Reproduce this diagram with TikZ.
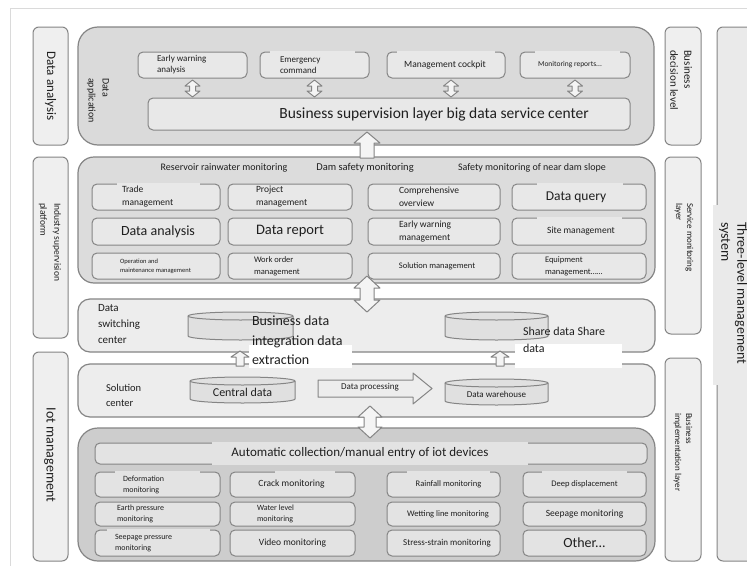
\documentclass[tikz,border=0pt]{standalone}
\usepackage{fontspec}
\setmainfont{Carlito}
\usetikzlibrary{calc}
\definecolor{bord}{HTML}{858585}
\definecolor{framec}{HTML}{DADADA}
\definecolor{pone}{HTML}{DADADA}
\definecolor{ptwo}{HTML}{DCDCDC}
\definecolor{pmid}{HTML}{EDEDED}
\definecolor{pfive}{HTML}{CDCDCD}
\definecolor{bfill}{HTML}{E8E8E8}
\definecolor{bfillv}{HTML}{E3E3E3}
\definecolor{sfill}{HTML}{EFEFEF}
\definecolor{tfill}{HTML}{EAEAEA}
\definecolor{cfill}{HTML}{E0E0E0}
\definecolor{afill}{HTML}{F4F4F4}
\definecolor{tcol}{HTML}{1F1F1F}
\newcommand\fsz[2]{\fontsize{#1}{#2}\selectfont}
\newcommand\mkbox[6]{%
  \pgfmathsetmacro\cxx{(#2+#4)/2}\pgfmathsetmacro\cyy{(#3+#5)/2}%
  \pgfmathsetmacro\ww{#4-#2}\pgfmathsetmacro\hh{#5-#3}%
  \node[#6, minimum width=\ww pt, minimum height=\hh pt, inner sep=0pt, outer sep=0pt] (#1) at (\cxx,\cyy) {};}
\newcommand\mkcyl[5]{%
  \pgfmathsetmacro\cxx{(#2+#4)/2}\pgfmathsetmacro\cyy{(#3+#5)/2}%
  \pgfmathsetmacro\ww{#4-#2}\pgfmathsetmacro\hh{#5-#3}\pgfmathsetmacro\rxx{(#4-#2)/2}%
  \path[cylst] (#2,#3+4) -- (#2,#5-4) arc[start angle=180,end angle=360,x radius=\rxx pt,y radius=4pt]
     -- (#4,#3+4) arc[start angle=0,end angle=180,x radius=\rxx pt,y radius=4pt] -- cycle;
  \draw[cylst, fill=none] (#2,#3+4) arc[start angle=180,end angle=360,x radius=\rxx pt,y radius=4pt];
  \node[minimum width=\ww pt, minimum height=\hh pt, inner sep=0pt] (#1) at (\cxx,\cyy) {};}
\newcommand\dblarr[5]{% top, bottom, head half width, shaft half width, head length
  \draw[barrow] (#1) -- ++(#3,#5) -- ++(-#3+#4,0) -- ($(#2)+(#4,-#5)$) -- ++(#3-#4,0) -- (#2)
    -- ++(-#3,-#5) -- ++(#3-#4,0) -- ($(#1)+(-#4,#5)$) -- ++(-#3+#4,0) -- cycle;}
\newcommand\uparr[5]{% top, bottom, head half width, shaft half width, head length
  \draw[barrow] (#1) -- ++(#3,#5) -- ++(-#3+#4,0) -- ($(#2)+(#4,0)$) -- ($(#2)+(-#4,0)$)
    -- ($(#1)+(-#4,#5)$) -- ++(-#3+#4,0) -- cycle;}
\newcommand\gapt[4]{\draw[gapl, draw=#4] ($(#1.north west)+(#2,0)$) -- ($(#1.north east)+(-#3,0)$);}
\newcommand\gapb[4]{\draw[gapl, draw=#4] ($(#1.south west)+(#2,0)$) -- ($(#1.south east)+(-#3,0)$);}
\begin{document}
\begin{tikzpicture}[x=1pt,y=-1pt,
  panel/.style={draw=bord, line width=1.2pt},
  ibox/.style={draw=bord, line width=1pt, fill=bfill, rounded corners=5pt},
  vbox/.style={draw=bord, line width=1pt, fill=bfillv, rounded corners=5pt},
  side/.style={draw=bord, line width=1pt, fill=sfill, rounded corners=6pt},
  txt/.style={text=tcol, inner sep=0pt, outer sep=0pt, align=left},
  barrow/.style={draw=bord, line width=1pt, fill=afill, line join=round},
  gapl/.style={line width=2.4pt},
  cylst/.style={draw=bord, line width=1pt, fill=cfill}]
\useasboundingbox (0,0) rectangle (747,565);
\clip (0,0) rectangle (747,565);
\fill[white] (0,0) rectangle (747,565);
\draw[framec, line width=0.8pt] (10,8) rectangle (760,575);

% side columns
\mkbox{l1}{33}{27}{68}{145}{side}
\mkbox{l2}{33}{157}{68}{338}{side}
\mkbox{l3}{33}{352}{68}{561}{side}
\mkbox{r1}{665}{27}{701}{145}{side}
\mkbox{r2}{665}{157}{701}{334}{side}
\mkbox{r3}{665}{358}{701}{561}{side}
\mkbox{tl}{717}{27}{775}{561}{side, fill=tfill}
\draw[line width=6pt, tfill] (716,205) -- (716,385);

% panels
\mkbox{p1}{78}{27}{654}{145}{panel, fill=pone, rounded corners=20pt}
\mkbox{p2}{78}{157}{655}{283}{panel, fill=ptwo, rounded corners=16pt}
\mkbox{p3}{78}{299}{655}{352}{panel, fill=pmid, rounded corners=12pt}
\mkbox{p4}{78}{364}{655}{417}{panel, fill=pmid, rounded corners=12pt}
\mkbox{p5}{78}{428}{655}{561}{panel, fill=pfive, rounded corners=20pt}

% panel 1 boxes
\mkbox{ew}{138}{52}{247}{78}{ibox}
\mkbox{ec}{260}{52}{369}{78}{ibox}
\mkbox{mc}{387}{52}{505}{78}{ibox}
\mkbox{mr}{520}{52}{630}{78}{ibox}
\mkbox{sc}{148}{98}{630}{130}{ibox}
\gapt{ec}{10}{14}{bfill}
\gapt{mc}{10}{10}{bfill}
\gapt{mr}{15}{10}{bfill}

% panel 2 boxes
\mkbox{b11}{92}{184}{220}{210}{ibox}
\mkbox{b12}{228}{184}{352}{210}{ibox}
\mkbox{b13}{368}{184}{500}{210}{ibox}
\mkbox{b14}{512}{184}{646}{210}{ibox}
\mkbox{b21}{92}{218}{220}{245}{ibox}
\mkbox{b22}{228}{218}{352}{245}{ibox}
\mkbox{b23}{368}{218}{500}{245}{ibox}
\mkbox{b24}{512}{218}{646}{245}{ibox}
\mkbox{b31}{92}{253}{220}{279}{ibox}
\mkbox{b32}{228}{253}{352}{279}{ibox}
\mkbox{b33}{368}{253}{500}{279}{ibox}
\mkbox{b34}{512}{253}{646}{279}{ibox}
\gapt{b11}{25}{20}{bfill}
\gapt{b14}{25}{23}{bfill}
\gapt{b24}{25}{24}{bfill}

% panel 5 boxes
\mkbox{auto}{95}{443}{647}{464}{vbox}
\gapt{auto}{117}{119}{bfillv}
\gapb{auto}{117}{119}{bfillv}
\mkbox{d11}{95}{472}{220}{497}{vbox}
\mkbox{d12}{230}{472}{355}{497}{vbox}
\mkbox{d13}{387}{472}{500}{497}{vbox}
\mkbox{d14}{523}{472}{646}{497}{vbox}
\mkbox{d21}{95}{502}{220}{526}{vbox}
\mkbox{d22}{230}{502}{355}{526}{vbox}
\mkbox{d23}{387}{502}{500}{526}{vbox}
\mkbox{d24}{523}{502}{646}{526}{vbox}
\mkbox{d31}{95}{530}{220}{556}{vbox}
\mkbox{d32}{230}{530}{355}{556}{vbox}
\mkbox{d33}{387}{530}{500}{556}{vbox}
\mkbox{d34}{523}{530}{646}{556}{vbox}
\gapt{d11}{20}{20}{bfillv}
\gapt{d31}{12}{10}{bfillv}
\gapt{d12}{45}{20}{bfillv}
\gapt{d13}{20}{10}{bfillv}
\gapt{d14}{19}{19}{bfillv}

% white patches behind overlaid texts
\fill[white] (249,345) rectangle (352,368);
\fill[white] (515,344) rectangle (622,368);

% cylinders
\mkcyl{cy1}{188}{312}{293}{340}
\mkcyl{cy2}{445}{312}{548}{340}
\mkcyl{cy3}{190}{377}{295}{403}
\mkcyl{cy4}{445}{379}{548}{405}

% data processing arrow
\draw[barrow, fill=pmid] (318,380) -- (413,380) -- (413,373) -- (432,388.5) -- (413,404) -- (413,397) -- (318,397) -- cycle;

% block arrows
\coordinate (a1t) at ($(ew.south)+(0,2)$); \coordinate (a1x) at (ew.south |- sc.north); \coordinate (a1b) at ($(a1x)+(0,-1)$);
\coordinate (a2t) at ($(ec.south)+(0,2)$); \coordinate (a2x) at (ec.south |- sc.north); \coordinate (a2b) at ($(a2x)+(0,-1)$);
\coordinate (a3t) at ($(mc.south)+(5,2)$); \coordinate (a3x) at (mc.south |- sc.north); \coordinate (a3b) at ($(a3x)+(5,-1)$);
\coordinate (a4t) at ($(mr.south)+(0,2)$); \coordinate (a4x) at (mr.south |- sc.north); \coordinate (a4b) at ($(a4x)+(0,-1)$);
\dblarr{a1t}{a1b}{7.5}{3}{6}
\dblarr{a2t}{a2b}{7.5}{3}{6}
\dblarr{a3t}{a3b}{7.5}{3}{6}
\dblarr{a4t}{a4b}{7.5}{3}{6}
\coordinate (u1t) at (367,132); \coordinate (u1b) at (367,158);
\uparr{u1t}{u1b}{13}{7}{11}
\coordinate (m1t) at (367,276); \coordinate (m1b) at (367,312);
\dblarr{m1t}{m1b}{13}{7}{12}
\coordinate (s1t) at (240,351); \coordinate (s1b) at (240,366);
\uparr{s1t}{s1b}{9}{4}{6}
\coordinate (s2t) at (500,351); \coordinate (s2b) at (500,366);
\uparr{s2t}{s2b}{9}{4}{6}
\coordinate (m2t) at (370,406); \coordinate (m2b) at (370,438);
\dblarr{m2t}{m2b}{12}{6}{11}

% side labels
\node[txt, rotate=-90, font=\fsz{13}{15}] (l1t) at (l1) {Data analysis};
\node[txt, rotate=-90, anchor=west, font=\fsz{9.5}{14}] (l2t) at (50,203) {Industry supervision\\platform};
\node[txt, rotate=-90, font=\fsz{14}{16}] (l3t) at (50,455) {Iot management};
\node[txt, rotate=-90, anchor=west, font=\fsz{11}{14}] (r1t) at (681,50) {Business\\decision level};
\node[txt, rotate=-90, anchor=west, font=\fsz{9}{11}] (r2t) at (684,203) {Service monitoring\\layer};
\node[txt, rotate=-90, anchor=west, font=\fsz{9}{11}] (r3t) at (683,413) {Business\\implementation layer};
\node[txt, rotate=-90, anchor=west, font=\fsz{14}{16}] (tlt) at (733,222) {Three-level management\\system};

% panel 1 texts
\node[txt, rotate=-90, anchor=west, font=\fsz{10}{14}] (dat) at (98,78) {Data\\application};
\node[txt, anchor=west, font=\fsz{9}{11}] (ewt) at ($(ew.west)+(19,0)$) {Early warning\\analysis};
\node[txt, anchor=west, font=\fsz{9}{11}] (ect) at ($(ec.west)+(20,0)$) {Emergency\\command};
\node[txt, font=\fsz{9.5}{11}] (mct) at ($(mc)+(-1,0)$) {Management cockpit};
\node[txt, font=\fsz{7.5}{9}] (mrt) at ($(mr)+(-5,0)$) {Monitoring reports...};
\node[txt, font=\fsz{15.5}{18}] (sct) at ($(sc)+(45,0)$) {Business supervision layer big data service center};

% panel 2 texts
\node[txt, font=\fsz{10}{12}] (h1) at (224,168) {Reservoir rainwater monitoring};
\node[txt, font=\fsz{10.5}{12}] (h2) at (365,168) {Dam safety monitoring};
\node[txt, font=\fsz{10}{12}] (h3) at (532,168) {Safety monitoring of near dam slope};
\node[txt, anchor=west, font=\fsz{9.5}{13}] (b11t) at ($(b11.west)+(30,0)$) {Trade\\management};
\node[txt, anchor=west, font=\fsz{9.5}{13}] (b12t) at ($(b12.west)+(28,0)$) {Project\\management};
\node[txt, anchor=west, font=\fsz{9.5}{13}] (b13t) at ($(b13.west)+(31,0)$) {Comprehensive\\overview};
\node[txt, font=\fsz{13.5}{15}] (b14t) at ($(b14)+(-3,0)$) {Data query};
\node[txt, font=\fsz{14}{16}] (b21t) at ($(b21)+(2,0)$) {Data analysis};
\node[txt, font=\fsz{14.5}{16}] (b22t) at (b22) {Data report};
\node[txt, anchor=west, font=\fsz{9.5}{13}] (b23t) at ($(b23.west)+(31,0)$) {Early warning\\management};
\node[txt, font=\fsz{9.5}{11}] (b24t) at ($(b24)+(2,0)$) {Site management};
\node[txt, anchor=west, font=\fsz{6.5}{9}] (b31t) at ($(b31.west)+(28,0)$) {Operation and\\maintenance management};
\node[txt, anchor=west, font=\fsz{8.5}{12}] (b32t) at ($(b32.west)+(26,0)$) {Work order\\management};
\node[txt, font=\fsz{8.5}{10}] (b33t) at ($(b33)+(3,0)$) {Solution management};
\node[txt, anchor=west, font=\fsz{8.5}{12}] (b34t) at ($(b34.west)+(33,0)$) {Equipment\\management……};

% panel 3 and 4 texts
\node[txt, anchor=west, font=\fsz{11}{16}] (dsct) at (98,324) {Data\\switching\\center};
\node[txt, anchor=north west, font=\fsz{14}{19.5}] (bdit) at (252,316) {Business data\\integration data\\extraction};
\node[txt, anchor=north west, font=\fsz{12}{17}] (sht) at (523,327) {Share data Share\\data};
\node[txt, anchor=west, font=\fsz{10.5}{15}] (solt) at (106,395) {Solution\\center};
\node[txt, font=\fsz{12}{14}] (cy3t) at ($(cy3)+(0,2)$) {Central data};
\node[txt, font=\fsz{9}{11}] (dpt) at (370,387) {Data processing};
\node[txt, font=\fsz{9}{11}] (cy4t) at ($(cy4)+(0,2)$) {Data warehouse};

% panel 5 texts
\node[txt, font=\fsz{13}{15}] (autot) at (360,453) {Automatic collection/manual entry of iot devices};
\node[txt, anchor=west, font=\fsz{8}{11}] (d11t) at ($(d11.west)+(28,0)$) {Deformation\\monitoring};
\node[txt, anchor=west, font=\fsz{8}{11}] (d21t) at ($(d21.west)+(22,0)$) {Earth pressure\\monitoring};
\node[txt, anchor=west, font=\fsz{8}{11}] (d31t) at ($(d31.west)+(20,0)$) {Seepage pressure\\monitoring};
\node[txt, font=\fsz{9.5}{11}] (d12t) at ($(d12)+(-1,0)$) {Crack monitoring};
\node[txt, anchor=west, font=\fsz{8}{11}] (d22t) at ($(d22.west)+(27,0)$) {Water level\\monitoring};
\node[txt, font=\fsz{9.5}{11}] (d32t) at (d32) {Video monitoring};
\node[txt, font=\fsz{8.5}{10}] (d13t) at ($(d13)+(5,0)$) {Rainfall monitoring};
\node[txt, font=\fsz{8.5}{10}] (d23t) at ($(d23)+(4.5,0)$) {Wetting line monitoring};
\node[txt, font=\fsz{9}{11}] (d33t) at ($(d33)+(3.5,0)$) {Stress-strain monitoring};
\node[txt, font=\fsz{8.5}{10}] (d14t) at (d14) {Deep displacement};
\node[txt, font=\fsz{9.5}{11}] (d24t) at (d24) {Seepage monitoring};
\node[txt, font=\fsz{14}{16}] (d34t) at (d34) {Other...};
\end{tikzpicture}
\end{document}
